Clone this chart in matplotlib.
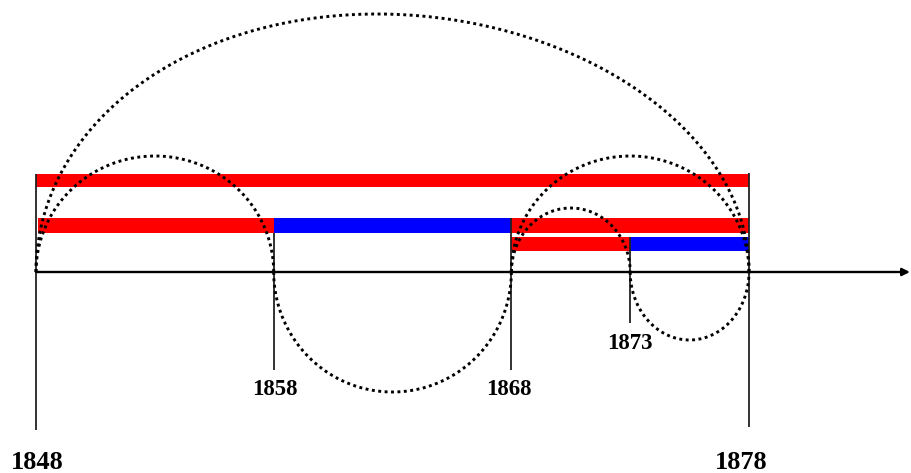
import numpy as np
import matplotlib.pyplot as plt

plt.rcParams['font.family'] = ['Liberation Serif', 'DejaVu Serif']

# horizontal bars: row, start year, end year, colour
bar_rows = [1, 2, 2, 2, 3, 3]
bar_starts = [1848, 1848.1, 1858, 1868, 1868, 1873]
bar_ends = [1878, 1858, 1868, 1878, 1873, 1878]
bar_colors = ['#ff0000', '#ff0000', '#0000ff', '#ff0000', '#ff0000', '#0000ff']

# dotted half-ellipses between two years (negative height = below the axis)
arc_starts = [1848, 1848, 1858, 1868, 1868, 1873]
arc_ends = [1878, 1858, 1868, 1878, 1873, 1878]
arc_heights = [258, 116, -120, 116, 64, -68]
arc_peak_shift = [-0.65, 0, 0, 0, 0, 0]   # the big arc leans a little left

# year marks on the time axis
mark_years = [1848, 1858, 1868, 1873, 1878]
mark_labels = ['1848', '1858', '1868', '1873', '1878']

row_bounds = {1: (85, 98), 2: (39, 54), 3: (21, 35)}
mark_top = [98, 39, 54, 35, 99]
mark_bottom = [-158, -98, -98, -51, -155]
label_y = [-190, -117, -117, -71.5, -190]
label_dx = [0.05, 0.05, -0.1, 0.0, -0.35]
label_size = [19, 16.5, 16.5, 16.5, 19]

fig = plt.figure(figsize=(9.11, 4.73), dpi=100)
ax = fig.add_axes([0, 0, 1, 1])
ax.set_xlim(1846.485, 1884.815)
ax.set_ylim(-201, 272)
ax.axis('off')

for row, s, e, c in zip(bar_rows, bar_starts, bar_ends, bar_colors):
    lo, hi = row_bounds[row]
    ax.fill_between([s, e], lo, hi, color=c, lw=0, zorder=2)

ax.vlines(mark_years, mark_bottom, mark_top, color='#222222', lw=1.3, zorder=3)

ax.annotate('', xy=(1884.77, 0), xytext=(1848, 0),
            arrowprops=dict(arrowstyle='-|>', lw=1.7, color='black',
                            mutation_scale=11, shrinkA=0, shrinkB=0),
            zorder=4)

t = np.linspace(0, np.pi, 400)
for s, e, h, sh in zip(arc_starts, arc_ends, arc_heights, arc_peak_shift):
    cx = (s + e) / 2
    rx = (e - s) / 2
    xs = cx - rx * np.cos(t) + sh * np.sin(t) ** 2
    ax.plot(xs, h * np.sin(t), color='black',
            ls=(0, (1, 1.2)), lw=2.1, zorder=5)

for yr, lab, ly, dx, fs in zip(mark_years, mark_labels, label_y, label_dx, label_size):
    ax.text(yr + dx, ly, lab, ha='center', va='center', fontsize=fs,
            fontweight='bold', zorder=6)

fig.savefig('out.png', dpi=100)
